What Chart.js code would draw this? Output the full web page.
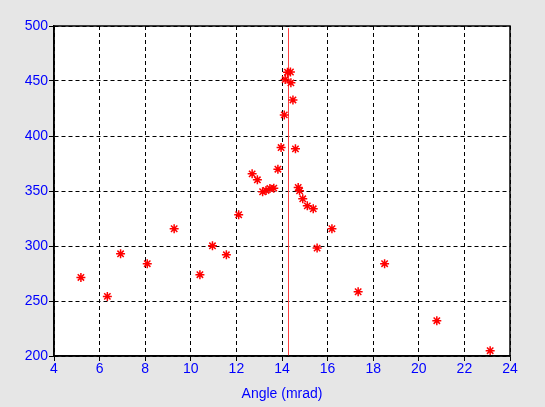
<!DOCTYPE html>
<html>
<head>
<meta charset="utf-8">
<script src="https://cdn.jsdelivr.net/npm/chart.js@4"></script>
<style>
  html, body { margin: 0; padding: 0; background: #e6e6e6; }
  #wrap { width: 545px; height: 407px; }
</style>
</head>
<body>
<div id="wrap"><canvas id="plot"></canvas></div>
<script>
// measured points
let angle = [5.18, 6.34, 6.92, 8.09, 9.27, 10.40, 10.95, 11.56, 12.10, 12.69,
  12.92, 13.15, 13.30, 13.47, 13.64, 13.82, 13.96, 14.10, 14.14, 14.24,
  14.37, 14.39, 14.48, 14.59, 14.71, 14.77, 14.91, 15.11, 15.37, 15.54,
  16.19, 17.34, 18.50, 20.79, 23.13];
let value = [271.4, 254.2, 292.9, 283.9, 315.7, 273.9, 300.2, 292.0, 328.4, 365.6,
  360.2, 349.3, 350.5, 352.3, 352.6, 369.8, 389.5, 419.2, 451.3, 458.0,
  458.2, 448.3, 432.8, 388.3, 353.2, 350.2, 342.9, 336.5, 333.8, 298.1,
  315.7, 258.4, 283.9, 232.1, 204.8];

// vertical marker line
let lineX = [14.285, 14.285];
let lineY = [200, 498];

let points = angle.map((a, i) => ({ x: a, y: value[i] }));
let markLine = lineX.map((a, i) => ({ x: a, y: lineY[i] }));

let fondo = {
  id: "fondo",
  beforeDraw: (chart) => {
    let ctx = chart.ctx, a = chart.chartArea;
    ctx.save();
    ctx.fillStyle = "#e6e6e6";
    ctx.fillRect(0, 0, chart.width, chart.height);
    ctx.fillStyle = "#ffffff";
    ctx.fillRect(a.left, a.top, a.right - a.left, a.bottom - a.top);
    ctx.restore();
  },
  afterDraw: (chart) => {
    let ctx = chart.ctx, a = chart.chartArea;
    ctx.save();
    ctx.strokeStyle = "#000000";
    ctx.lineWidth = 1.5;
    ctx.strokeRect(a.left, a.top, a.right - a.left, a.bottom - a.top);
    ctx.restore();
  }
};

let fuente = { family: "'Liberation Sans', Arial, sans-serif", size: 14 };

let config = {
  type: "scatter",
  data: {
    datasets: [
      {
        label: "line",
        data: markLine,
        showLine: true,
        borderColor: "#ff4040",
        borderWidth: 1,
        pointRadius: 0,
        order: 2
      },
      {
        label: "points",
        data: points,
        pointStyle: "star",
        pointRadius: 4.5,
        borderColor: "#ff0000",
        backgroundColor: "#ff0000",
        pointBorderWidth: 1.5,
        order: 1
      }
    ]
  },
  options: {
    responsive: true,
    maintainAspectRatio: false,
    animation: false,
    layout: { padding: { top: 26, right: 35, left: 0, bottom: 0 } },
    plugins: { legend: { display: false }, tooltip: { enabled: false } },
    scales: {
      x: {
        type: "linear",
        min: 4,
        max: 24,
        ticks: { stepSize: 2, color: "#0000ff", font: fuente, padding: 0 },
        grid: { color: "#000000", lineWidth: 1, tickLength: 5, tickColor: "#000000", tickBorderDash: [] },
        border: { color: "#000000", width: 1.5, dash: [4, 3] },
        title: { display: true, text: "Angle (mrad)", color: "#0000ff",
          font: { family: fuente.family, size: 14 }, padding: { top: 4 } },
        afterFit: (s) => { s.height = 51; }
      },
      y: {
        type: "linear",
        min: 200,
        max: 500,
        ticks: { stepSize: 50, color: "#0000ff", font: fuente, padding: 1 },
        grid: { color: "#000000", lineWidth: 1, tickLength: 5, tickColor: "#000000", tickBorderDash: [] },
        border: { color: "#000000", width: 1.5, dash: [4, 3] },
        afterFit: (s) => { s.width = 54; }
      }
    }
  },
  plugins: [fondo]
};

let chart1 = new Chart(document.getElementById("plot"), config);
</script>
</body>
</html>
